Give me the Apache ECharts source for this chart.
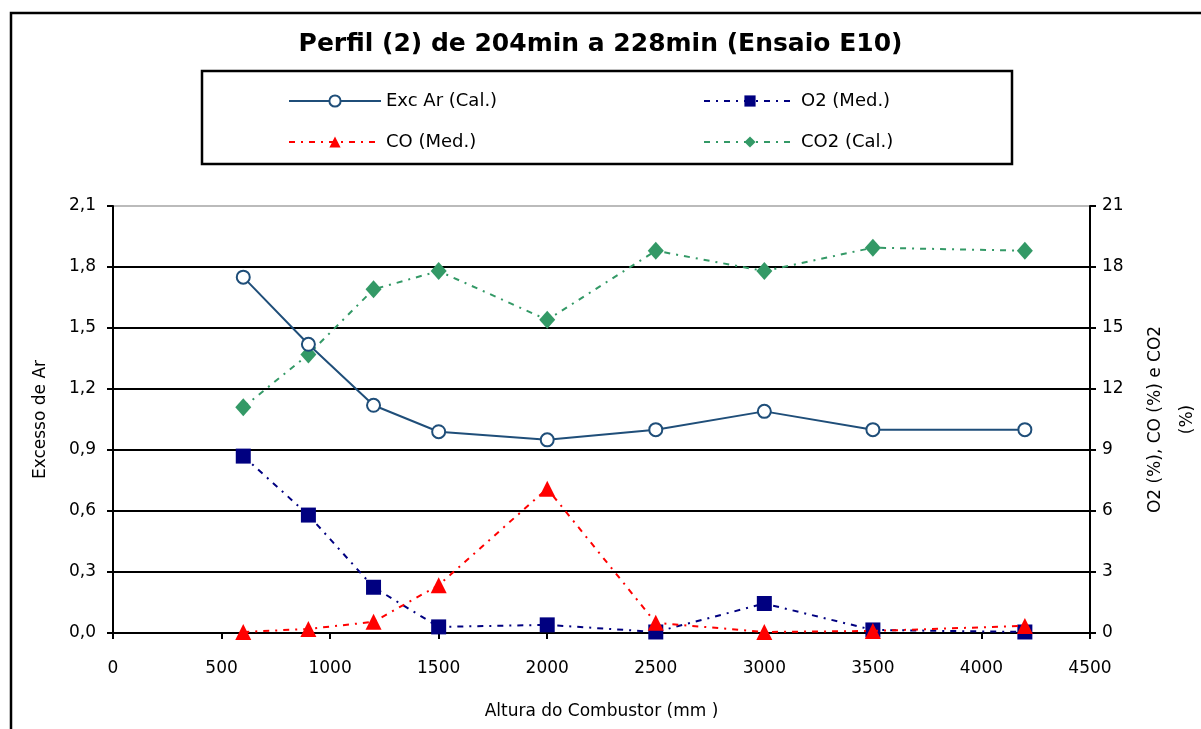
<!DOCTYPE html>
<html>
<head>
<meta charset="utf-8">
<script src="https://cdn.jsdelivr.net/npm/echarts@6/dist/echarts.min.js"></script>
<style>
html,body{margin:0;padding:0;background:#fff;}
#c{width:1201px;height:729px;}
</style>
</head>
<body>
<div id="c"></div>
<script>
var heights = [600, 900, 1200, 1500, 2000, 2500, 3000, 3500, 4200];
var excAr = [1.75, 1.42, 1.12, 0.99, 0.95, 1.00, 1.09, 1.00, 1.00];
var o2 = [8.7, 5.8, 2.25, 0.3, 0.4, 0.05, 1.45, 0.15, 0.05];
var co = [0.05, 0.2, 0.55, 2.35, 7.1, 0.5, 0.05, 0.1, 0.35];
var co2 = [11.1, 13.7, 16.9, 17.8, 15.4, 18.8, 17.8, 18.95, 18.8];

var seriesNames = ['Exc Ar (Cal.)', 'O2 (Med.)', 'CO (Med.)', 'CO2 (Cal.)'];
var titleText = 'Perfil (2) de 204min a 228min (Ensaio E10)';
var xName = 'Altura do Combustor (mm )';
var yLeftName = 'Excesso de Ar';
var yRightName = 'O2 (%), CO (%) e CO2\n(%)';

function pairs(ys){ return heights.map(function(h,i){ return [h, ys[i]]; }); }

var FONT = 'DejaVu Sans';
var chart = echarts.init(document.getElementById('c'));
var legendBase = {
  itemWidth: 92, itemHeight: 14, itemGap: 0,
  textStyle: {fontFamily: FONT, fontSize: 18, color: '#000'}
};
function lg(name, left, top){
  return Object.assign({}, legendBase, {data:[name], left:left, top:top});
}
chart.setOption({
  backgroundColor: '#fff',
  animation: false,
  title: {
    text: titleText, left: 'center', top: 27,
    textStyle: {fontFamily: FONT, fontSize: 25, fontWeight: 'bold', color: '#000'}
  },
  graphic: [
    {type:'rect', shape:{x:11, y:13, width:1200, height:730}, style:{fill:'none', stroke:'#000', lineWidth:2.5}, z:-1},
    {type:'rect', shape:{x:202, y:71, width:810, height:93}, style:{fill:'none', stroke:'#000', lineWidth:2.5}, z:-1}
  ],
  legend: [
    lg(seriesNames[0], 283, 87),
    lg(seriesNames[1], 698, 87),
    lg(seriesNames[2], 283, 128),
    lg(seriesNames[3], 698, 128)
  ],
  grid: {left:113, right:111, top:206, bottom:96, containLabel:false, outerBoundsMode:'none'},
  xAxis: {
    type:'value', min:0, max:4500, interval:500,
    name: xName, nameLocation:'middle', nameGap:70,
    nameTextStyle:{fontFamily:FONT, fontSize:17, color:'#000'},
    axisLine:{show:true, onZero:false, lineStyle:{color:'#000', width:2}},
    axisTick:{show:true, length:6, lineStyle:{color:'#000', width:2}},
    axisLabel:{fontFamily:FONT, fontSize:17, color:'#000', margin:27,
      formatter:function(v){ return String(v); }},
    splitLine:{show:false}
  },
  yAxis: [
    {
      type:'value', min:0, max:2.1, interval:0.3, position:'left',
      name: yLeftName, nameLocation:'middle', nameGap:64, nameRotate:90,
      nameTextStyle:{fontFamily:FONT, fontSize:17, color:'#000'},
      axisLine:{show:true, lineStyle:{color:'#000', width:2}},
      axisTick:{show:true, length:6, lineStyle:{color:'#000', width:2}},
      axisLabel:{fontFamily:FONT, fontSize:17, color:'#000', margin:17,
        formatter:function(v){ return v.toFixed(1).replace('.', ','); }},
      splitLine:{show:true, lineStyle:{color:['#000','#000','#000','#000','#000','#000','#000','#bbb'], width:2}}
    },
    {
      type:'value', min:0, max:21, interval:3, position:'right',
      name: yRightName, nameLocation:'middle', nameGap:50, nameRotate:90,
      nameTextStyle:{fontFamily:FONT, fontSize:17, color:'#000', lineHeight:32},
      axisLine:{show:true, lineStyle:{color:'#000', width:2}},
      axisTick:{show:true, length:6, lineStyle:{color:'#000', width:2}},
      axisLabel:{fontFamily:FONT, fontSize:17, color:'#000', margin:12},
      splitLine:{show:false}
    }
  ],
  series: [
    {
      name: seriesNames[0], type:'line', yAxisIndex:0, data: pairs(excAr),
      symbol:'circle', symbolSize:13, showAllSymbol:true,
      lineStyle:{color:'#1F4E79', width:2, type:'solid'},
      itemStyle:{color:'#fff', borderColor:'#1F4E79', borderWidth:2},
      z:5
    },
    {
      name: seriesNames[1], type:'line', yAxisIndex:1, data: pairs(o2),
      symbol:'rect', symbolSize:15,
      lineStyle:{color:'#000080', width:2, type:[6,6,2,6]},
      itemStyle:{color:'#000080'},
      z:3
    },
    {
      name: seriesNames[2], type:'line', yAxisIndex:1, data: pairs(co),
      symbol:'triangle', symbolSize:16,
      lineStyle:{color:'#FF0000', width:2, type:[6,6,2,6]},
      itemStyle:{color:'#FF0000'},
      z:4
    },
    {
      name: seriesNames[3], type:'line', yAxisIndex:1, data: pairs(co2),
      symbol:'diamond', symbolSize:[16,18],
      lineStyle:{color:'#339966', width:2, type:[6,6,2,6]},
      itemStyle:{color:'#339966'},
      z:4
    }
  ]
});
</script>
</body>
</html>
